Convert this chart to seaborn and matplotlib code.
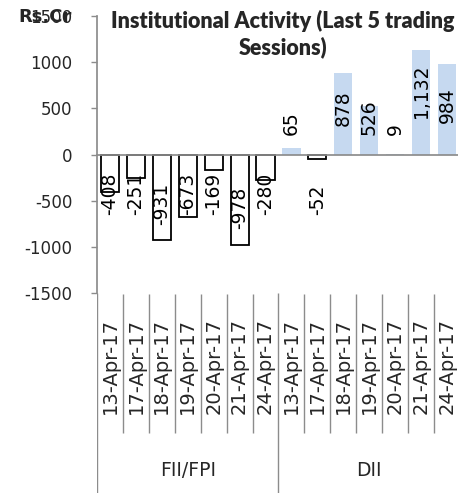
import pandas as pd
import seaborn as sns
import matplotlib.pyplot as plt

groups = ["FII/FPI", "DII"]
dates = ["13-Apr-17", "17-Apr-17", "18-Apr-17", "19-Apr-17", "20-Apr-17", "21-Apr-17", "24-Apr-17"]
fii_values = [-408, -251, -931, -673, -169, -978, -280]
dii_values = [65, -52, 878, 526, 9, 1132, 984]

title = "Institutional Activity (Last 5 trading\nSessions)"
y_ticks = [-1500, -1000, -500, 0, 500, 1000, 1500]

pos_color = "#c6d9f0"
grid_gray = "#8c8c8c"

rows = []
for g, vals in zip(groups, [fii_values, dii_values]):
    for d, v in zip(dates, vals):
        rows.append({"group": g, "date": d, "key": f"{g}|{d}", "value": v,
                     "sign": "pos" if v >= 0 else "neg"})
df = pd.DataFrame(rows)

sns.set_theme(style="white")
plt.rcParams["font.family"] = ["DejaVu Sans"]

W, H = 458, 493
fig = plt.figure(figsize=(W / 100, H / 100), dpi=100)
ax = fig.add_axes([97 / W, 200 / H, 363 / W, 277 / H])
ax2 = fig.add_axes([97 / W, 0, 363 / W, 200 / H])

sns.barplot(data=df, x="key", y="value", hue="sign", order=list(df["key"]),
            palette={"pos": pos_color, "neg": "white"}, dodge=False,
            width=0.7, legend=False, ax=ax, saturation=1)
for p in ax.patches:
    if p.get_height() < 0:
        p.set_edgecolor("black")
        p.set_linewidth(1.3)
    else:
        p.set_edgecolor("none")

n = len(df)
ax.set_xlim(-0.5, n - 0.5)
ax.set_ylim(-1500, 1500)
ax.set_yticks(y_ticks)
ax.set_yticklabels([str(t) for t in y_ticks], fontsize=12)
ax.set_xlabel(None)
ax.set_ylabel(None)
for s in ["top", "right"]:
    ax.spines[s].set_visible(False)
ax.spines["left"].set_color(grid_gray)
ax.spines["bottom"].set_color(grid_gray)
ax.spines["bottom"].set_position(("data", 0))
ax.set_xticks([])
ax.set_xticks([i - 0.5 for i in range(n + 1)], minor=True)
ax.tick_params(axis="x", which="minor", direction="out", length=3.5, color=grid_gray, width=1)
ax.tick_params(axis="y", direction="out", length=4.5, color=grid_gray, width=1, pad=13, left=True)

# data labels
for i, v in enumerate(df["value"]):
    if v >= 0:
        y = max(206, 0.35 * v)
    else:
        y = min(-660, 0.82 * v)
    ax.text(i, y, f"{v:,}", rotation=90, ha="center", va="bottom", fontsize=13.5, color="black")

# category area
ax2.set_xlim(-0.5, n - 0.5)
ax2.set_ylim(0, 200)
ax2.axis("off")
n_dates = len(dates)
for i in range(1, n):
    if i % n_dates != 0:
        ax2.vlines(i - 0.5, 60, 199, color=grid_gray, lw=1)
for i in range(0, n + 1, n_dates):
    ax2.vlines(i - 0.5, 0, 200, color=grid_gray, lw=1)
for i, d in enumerate(df["date"]):
    ax2.text(i, 127, d, rotation=90, ha="center", va="center", fontsize=14)
for k, g in enumerate(groups):
    ax2.text(k * n_dates + (n_dates - 1) / 2, 23, g, ha="center", va="center", fontsize=13.5)

fig.text(283 / W, 1 - 10 / H, title, ha="center", va="top", fontsize=15.5,
         fontweight="heavy", family=["Lato", "DejaVu Sans"], linespacing=1.25)
fig.text(18 / W, 1 - 17 / H, "Rs.Cr", ha="left", va="center", fontsize=13, fontweight="bold")

fig.savefig("out.png", dpi=100)
